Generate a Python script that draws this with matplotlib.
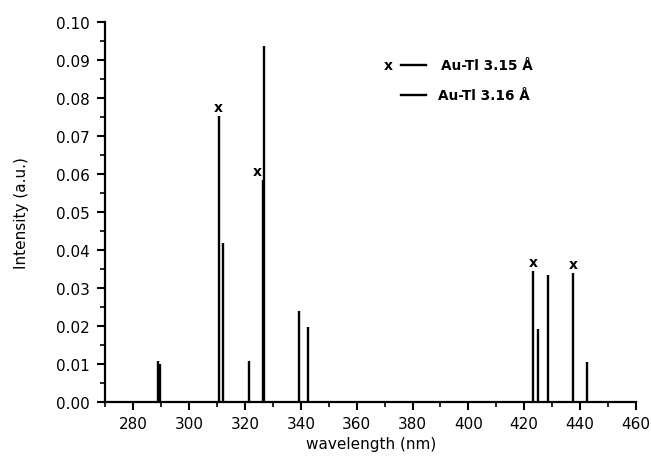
import matplotlib
matplotlib.use("Agg")
import matplotlib.pyplot as plt
from matplotlib.ticker import MultipleLocator, FormatStrFormatter

plt.rcParams['font.family'] = ['DejaVu Sans']

# Au-Tl 3.15 Å lines (wavelength nm, intensity)
wl_315 = [289.0, 310.5, 326.5, 423.2, 437.5]
int_315 = [0.0108, 0.0753, 0.0585, 0.0345, 0.0340]
marked_315 = [310.5, 326.5, 423.2, 437.5]

# Au-Tl 3.16 Å lines
wl_316 = [289.6, 312.2, 321.5, 326.8, 339.3, 342.4, 424.8, 428.6, 442.4]
int_316 = [0.0101, 0.0420, 0.0110, 0.0935, 0.0240, 0.0198, 0.0194, 0.0334, 0.0106]

legend_labels = ["Au-Tl 3.15 Å", "Au-Tl 3.16 Å"]

fig = plt.figure(figsize=(6.51, 4.64), dpi=100)
ax = fig.add_axes([0.162, 0.1304, 0.8147, 0.8206])

lw = 1.7
ax.vlines(wl_315, 0, int_315, colors='black', linewidth=lw)
ax.vlines(wl_316, 0, int_316, colors='black', linewidth=lw)

for w, h in zip(wl_315, int_315):
    if w in marked_315:
        dx = -4.5 if any(abs(w - v) < 1.0 and hh > h for v, hh in zip(wl_316, int_316)) else 0
        ax.annotate('x', xy=(w, h), xytext=(dx, 1.5), textcoords='offset points',
                    ha='center', va='bottom', fontsize=10, fontweight='bold')

ax.set_xlim(270, 460)
ax.set_ylim(0, 0.10)
ax.xaxis.set_major_locator(MultipleLocator(20))
ax.xaxis.set_minor_locator(MultipleLocator(10))
ax.yaxis.set_major_locator(MultipleLocator(0.01))
ax.yaxis.set_minor_locator(MultipleLocator(0.005))
ax.yaxis.set_major_formatter(FormatStrFormatter('%.2f'))

for s in ['top', 'right']:
    ax.spines[s].set_visible(False)
for s in ['left', 'bottom']:
    ax.spines[s].set_linewidth(1.6)

ax.tick_params(which='major', direction='out', length=6, width=1.5, labelsize=11)
ax.tick_params(which='minor', direction='out', length=3.5, width=1.2)
ax.tick_params(axis='y', which='major', pad=5)
ax.tick_params(axis='x', which='major', pad=3.5)

ax.set_xlabel('wavelength (nm)', fontsize=11, labelpad=4)
ax.set_ylabel('Intensity (a.u.)', fontsize=11, labelpad=20)

# manual legend
tr = ax.transAxes
x0, x1 = 0.557, 0.604
ys = [0.886, 0.807]
ax.text(0.533, ys[0], 'x', transform=tr, ha='center', va='center', fontsize=10, fontweight='bold')
for y in ys:
    ax.plot([x0, x1], [y, y], transform=tr, color='black', linewidth=lw)
ax.text(0.633, ys[0], legend_labels[0], transform=tr, ha='left', va='center', fontsize=9.8, fontweight='bold')
ax.text(0.627, ys[1], legend_labels[1], transform=tr, ha='left', va='center', fontsize=9.8, fontweight='bold')

fig.savefig('out.png', dpi=100)
